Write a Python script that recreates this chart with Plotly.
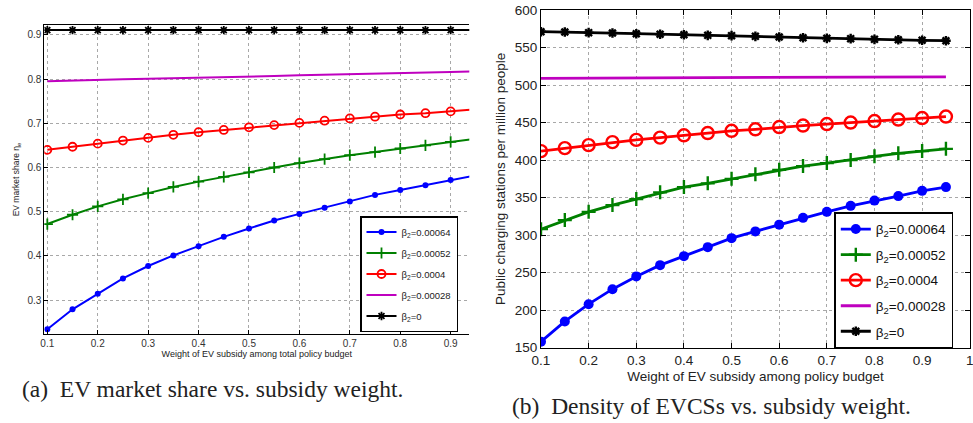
import plotly.graph_objects as go

W, H = 973, 423

weights = [0.10, 0.15, 0.20, 0.25, 0.30, 0.35, 0.40, 0.45, 0.50,
           0.55, 0.60, 0.65, 0.70, 0.75, 0.80, 0.85, 0.90, 0.95]

series_names = ["β<sub>2</sub>=0.00064", "β<sub>2</sub>=0.00052", "β<sub>2</sub>=0.0004",
                "β<sub>2</sub>=0.00028", "β<sub>2</sub>=0"]

# (a) EV market share
share_000064 = [0.234, 0.279, 0.314, 0.349, 0.377, 0.401, 0.422, 0.443, 0.462,
                0.480, 0.495, 0.509, 0.523, 0.538, 0.549, 0.560, 0.572, 0.582]
share_000052 = [0.472, 0.493, 0.512, 0.528, 0.542, 0.556, 0.568, 0.579, 0.589,
                0.600, 0.610, 0.619, 0.628, 0.635, 0.643, 0.650, 0.658, 0.665]
share_00004 = [0.640, 0.647, 0.654, 0.661, 0.667, 0.674, 0.680, 0.685, 0.691,
               0.696, 0.701, 0.706, 0.711, 0.715, 0.720, 0.723, 0.727, 0.732]
share_000028 = [0.795, 0.797, 0.798, 0.800, 0.801, 0.802, 0.804, 0.805, 0.806,
                0.807, 0.809, 0.810, 0.811, 0.812, 0.814, 0.815, 0.816, 0.818]
share_0 = [0.911, 0.911, 0.911, 0.911, 0.911, 0.911, 0.911, 0.911, 0.911,
           0.911, 0.911, 0.911, 0.911, 0.911, 0.911, 0.911, 0.911, 0.911]

# (b) Density of EVCSs
dens_000064 = [158, 185, 208, 228, 245, 260, 272, 284, 296,
               305, 314, 323, 331, 339, 346, 352, 359, 364]
dens_000052 = [308, 320, 331, 340, 348, 357, 364, 369, 375,
               381, 387, 392, 396, 400, 405, 409, 412, 415]
dens_00004 = [412, 416, 420, 424, 427, 430, 433, 436, 439,
              441, 444, 446, 448, 450, 452, 454, 456, 458]
dens_000028 = [509.0, 509.1, 509.2, 509.4, 509.5, 509.6, 509.7, 509.8, 509.9,
               510.0, 510.2, 510.3, 510.4, 510.5, 510.6, 510.7, 510.9, 511.0]
dens_0 = [571.1, 570.7, 569.8, 569.3, 568.4, 567.6, 567.1, 566.2, 565.8,
          564.9, 564.0, 563.1, 562.2, 561.8, 560.9, 560.4, 559.6, 559.1]

x_ticks_a = [0.1, 0.2, 0.3, 0.4, 0.5, 0.6, 0.7, 0.8, 0.9]
y_ticks_a = [0.3, 0.4, 0.5, 0.6, 0.7, 0.8, 0.9]
x_ticks_b = [0.1, 0.2, 0.3, 0.4, 0.5, 0.6, 0.7, 0.8, 0.9, 1.0]
y_ticks_b = [150, 200, 250, 300, 350, 400, 450, 500, 550, 600]

colors = ["#0000FF", "#008000", "#FF0000", "#BF00BF", "#000000"]

fig = go.Figure()

def add_series(xa, ya, data, legend, lw, msz, mlw, sub):
    styles = [
        dict(symbol="circle", size=msz[0], line=dict(width=0)),
        dict(symbol="cross-thin-open", size=msz[1], line=dict(width=mlw, color=colors[1])),
        dict(symbol="circle-open", size=msz[2], line=dict(width=mlw, color=colors[2])),
        None,
        dict(symbol="asterisk-open", size=msz[4], line=dict(width=mlw, color=colors[4])),
    ]
    for i, (vals, name) in enumerate(zip(data, series_names)):
        st = styles[i]
        mode = "lines" if st is None else "lines+markers"
        marker = dict(color=colors[i]) if st is None else dict(color=colors[i], **st)
        fig.add_trace(go.Scatter(
            x=weights, y=vals, name=name, mode=mode,
            line=dict(color=colors[i], width=lw), marker=marker,
            xaxis=xa, yaxis=ya, legend=legend,
            legendgroup=f"{sub}{i}",
        ))

add_series("x", "y", [share_000064, share_000052, share_00004, share_000028, share_0],
           "legend", 2, [6, 8, 8, 0, 7], 1.8, "a")
add_series("x2", "y2", [dens_000064, dens_000052, dens_00004, dens_000028, dens_0],
           "legend2", 2.8, [10, 10, 12, 0, 8], 2.4, "b")

tickfont_a = dict(family="Liberation Sans, Arial", size=10, color="#333333")
tickfont_b = dict(family="Liberation Sans, Arial", size=13.5, color="#222222")

common = dict(showline=True, linecolor="black", linewidth=1, ticks="inside",
              tickcolor="black", showgrid=True, gridcolor="#a8a8a8",
              griddash="dot", gridwidth=1, zeroline=False, automargin=False,
              ticklabeloverflow="allow")

fig.update_layout(
    width=W, height=H,
    margin=dict(l=0, r=0, t=0, b=0),
    paper_bgcolor="white", plot_bgcolor="white",
    showlegend=True,
    xaxis=dict(domain=[44.3 / W, 469.3 / W], anchor="y", range=[0.094, 0.937],
               tickvals=x_ticks_a, ticktext=[f"{v:.1f}" for v in x_ticks_a],
               ticklen=4, mirror=True, tickfont=tickfont_a,
               title=dict(text="Weight of EV subsidy among total policy budget",
                          font=dict(family="Liberation Sans, Arial", size=9, color="#222"),
                          standoff=2),
               **common),
    yaxis=dict(domain=[1 - 334 / H, 1 - 25 / H], anchor="x", range=[0.2231, 0.9226],
               tickvals=y_ticks_a, ticktext=[f"{v:.1f}" for v in y_ticks_a],
               ticklen=4, mirror=False, tickfont=tickfont_a,
               title=dict(text="EV market share η<sub>e</sub>",
                          font=dict(family="Liberation Sans, Arial", size=8.5, color="#222"),
                          standoff=6),
               **common),
    xaxis2=dict(domain=[541 / W, 970 / W], anchor="y2", range=[0.1, 1.0005],
                tickvals=x_ticks_b, ticktext=["0.1", "0.2", "0.3", "0.4", "0.5", "0.6", "0.7", "0.8", "0.9", "1"],
                ticklen=5, mirror="ticks", tickfont=tickfont_b,
                title=dict(text="Weight of EV subsidy among policy budget",
                           font=dict(family="Liberation Sans, Arial", size=13.5, color="#222"),
                           standoff=4),
                **common),
    yaxis2=dict(domain=[1 - 347.7 / H, 1 - 10 / H], anchor="x2", range=[150, 600],
                tickvals=y_ticks_b, ticklen=5, mirror="ticks", tickfont=tickfont_b,
                title=dict(text="Public charging stations per million people",
                           font=dict(family="Liberation Sans, Arial", size=13.5, color="#222"),
                           standoff=6),
                **common),
    legend=dict(x=360 / W, y=1 - 216 / H, xanchor="left", yanchor="top",
                bgcolor="white", bordercolor="black", borderwidth=1.5,
                font=dict(family="Liberation Sans, Arial", size=9.5, color="#222"),
                tracegroupgap=2, itemwidth=30),
    legend2=dict(x=834.3 / W, y=1 - 212.3 / H, xanchor="left", yanchor="top",
                 bgcolor="white", bordercolor="black", borderwidth=1.5,
                 font=dict(family="Liberation Sans, Arial", size=13.5, color="#111"),
                 tracegroupgap=5, itemwidth=30),
    annotations=[
        dict(text="(a)&nbsp;&nbsp;EV market share vs. subsidy weight.", xref="paper", yref="paper",
             x=20 / W, y=1 - 389 / H, xanchor="left", yanchor="middle", showarrow=False,
             font=dict(family="Liberation Serif, Times New Roman", size=23.5, color="#222")),
        dict(text="(b)&nbsp;&nbsp;Density of EVCSs vs. subsidy weight.", xref="paper", yref="paper",
             x=510 / W, y=1 - 406 / H, xanchor="left", yanchor="middle", showarrow=False,
             font=dict(family="Liberation Serif, Times New Roman", size=23.5, color="#222")),
    ],
)

fig.write_html("out.html", config={"displayModeBar": False},
               post_script="document.body.style.margin='0px';document.body.style.padding='0px';")
